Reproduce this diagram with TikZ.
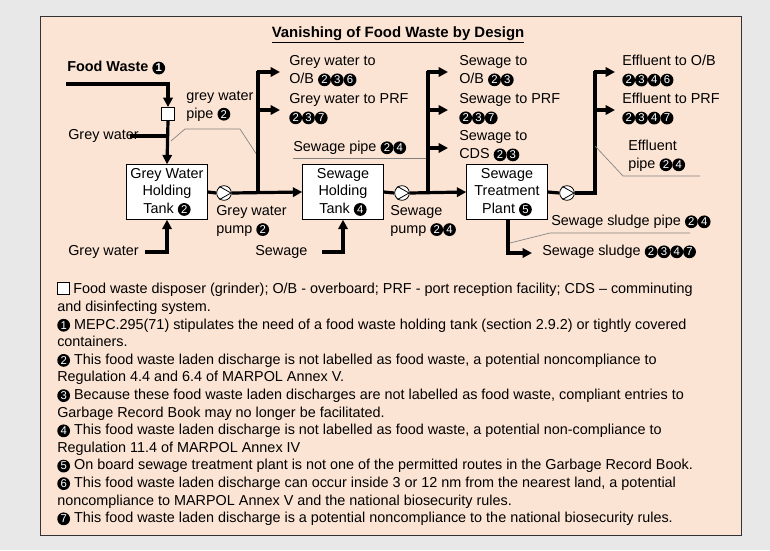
\documentclass[tikz,border=0pt]{standalone}
\usepackage{fontspec}
\setmainfont{Liberation Sans}
\usetikzlibrary{arrows.meta,calc}
\newcommand{\cn}[1]{\tikz[baseline=(cnx.base)]\node[circle,fill=black,text=white,inner sep=0pt,minimum size=9.6pt,font=\fontsize{8.5}{8.5}\selectfont](cnx){#1};}
\newcommand{\gbox}{\tikz[baseline=0pt]\draw[fill=white,line width=0.5pt] (0,0) rectangle (8.5pt,8.5pt);}
\begin{document}
\begin{tikzpicture}[x=0.75pt,y=-0.75pt,font=\fontsize{10.8}{12}\selectfont,
  pipe/.style={line width=2.4pt},
  arr/.style={pipe,-{Triangle[length=7pt,width=7pt]}},
  lead/.style={draw=gray,line width=0.5pt},
  tank/.style={draw,fill=white,align=center,minimum width=60.75pt,minimum height=41.25pt,inner sep=1pt,font=\fontsize{10.8}{13.2}\selectfont},
  pump/.style={circle,draw,fill=white,minimum size=11pt,inner sep=0pt,line width=0.6pt},
  lbl/.style={anchor=west,align=left,inner sep=0pt,font=\fontsize{10.8}{13.5}\selectfont}]
\fill[gray!18] (0,0) rectangle (770,550);
\useasboundingbox (0,0) rectangle (770,550);
\filldraw[fill={rgb,255:red,252;green,228;blue,212},draw=black!80] (40,16) rectangle (741,535);
\node[font=\bfseries\fontsize{11.2}{12}\selectfont] (title) at (398,35) {\underline{Vanishing of Food Waste by Design}};
\node[tank] (gt) at (167,192) {Grey Water\\Holding\\Tank \cn{2}};
\node[tank] (st) at (343,192) {Sewage\\Holding\\Tank \cn{4}};
\node[tank] (tp) at (507,192) {Sewage\\Treatment\\Plant \cn{5}};
\node[draw,fill=white,minimum size=10pt,inner sep=0pt] (gr) at (168,114) {};
\node[lbl,font=\bfseries\fontsize{10.8}{12}\selectfont] (fw) at (67,68) {Food Waste \cn{1}};
\coordinate (fw0) at (66,84);
\draw[arr] (fw0) -| (gr.north);
\draw[arr] (gr.south) -- (gt.north);
\node[lbl] (gw1) at (68,136) {Grey water};
\draw[pipe] (130,136) -- (168,136);
\node[lbl] (gw2) at (68,252) {Grey water};
\coordinate (gw2e) at (145,252);
\draw[arr] (gw2e) -| (gt.south);
\node[lbl] (gwp) at (186,106) {grey water\\pipe \cn{2}};
\draw[lead] (171,141) -- (185,129) -- (240,129) -- (257,155);
\node[pump] (p1) at (224,193) {};
\draw[line width=0.6pt] ($(p1)+(-4.5,-6.5)$) -- ($(p1)+(7,0)$) -- ($(p1)+(-4.5,6.5)$);
\draw[pipe] (gt.east) -- (p1.west);
\draw[arr] (p1.east) -- (st.west);
\coordinate (b1) at (258,193);
\draw[pipe] (b1) -- (258,71);
\draw[arr] (257,72) -- (280,72);
\draw[arr] (258,110) -- (280,110);
\node[lbl] (g1) at (289,71) {Grey water to\\O/B \cn{2}\cn{3}\cn{6}};
\node[lbl] (g2) at (289,109) {Grey water to PRF\\\cn{2}\cn{3}\cn{7}};
\node[lbl] (gpl) at (216,221) {Grey water\\pump \cn{2}};
\node[lbl] (spp) at (293,148) {Sewage pipe \cn{2}\cn{4}};
\draw[lead] (293,158) -- (428,158);
\node[lbl] (sw) at (255,252) {Sewage};
\coordinate (swe) at (322,252);
\draw[arr] (swe) -| (st.south);
\node[pump] (p2) at (402,193) {};
\draw[line width=0.6pt] ($(p2)+(-4.5,-6.5)$) -- ($(p2)+(7,0)$) -- ($(p2)+(-4.5,6.5)$);
\draw[pipe] (st.east) -- (p2.west);
\draw[arr] (p2.east) -- (tp.west);
\draw[pipe] (428,193) -- (428,71);
\draw[arr] (427,72) -- (448,72);
\draw[arr] (428,110) -- (448,110);
\draw[arr] (428,148) -- (448,148);
\node[lbl] (s1) at (459,71) {Sewage to\\O/B \cn{2}\cn{3}};
\node[lbl] (s2) at (459,109) {Sewage to PRF\\\cn{2}\cn{3}\cn{7}};
\node[lbl] (s3) at (459,146) {Sewage to\\CDS \cn{2}\cn{3}};
\node[lbl] (spl) at (390,221) {Sewage\\pump \cn{2}\cn{4}};
\node[pump] (p3) at (567,193) {};
\draw[line width=0.6pt] ($(p3)+(-4.5,-6.5)$) -- ($(p3)+(7,0)$) -- ($(p3)+(-4.5,6.5)$);
\draw[pipe] (tp.east) -- (p3.west);
\draw[pipe] (p3.east) -- (595,193) -- (595,71);
\draw[arr] (594,72) -- (615,72);
\draw[arr] (595,110) -- (615,110);
\node[lbl] (e1) at (622,71) {Effluent to O/B\\\cn{2}\cn{3}\cn{4}\cn{6}};
\node[lbl] (e2) at (622,109) {Effluent to PRF\\\cn{2}\cn{3}\cn{4}\cn{7}};
\node[lbl] (e3) at (628,156) {Effluent\\pipe \cn{2}\cn{4}};
\draw[lead] (595,146) -- (623,176) -- (700,176);
\coordinate (sl) at (532,253);
\draw[arr] (508,220) |- (sl);
\node[lbl] (sl1) at (542,252) {Sewage sludge \cn{2}\cn{3}\cn{4}\cn{7}};
\node[lbl] (sl2) at (551,222) {Sewage sludge pipe \cn{2}\cn{4}};
\draw[lead] (510,243) -- (550,233) -- (690,233);
\node[anchor=north west,align=left,inner sep=0pt,font=\fontsize{10.8}{13.2}\selectfont] (notes) at (57,282) {%
\gbox\ Food waste disposer (grinder); O/B - overboard; PRF - port reception facility; CDS – comminuting\\
and disinfecting system.\\
\cn{1} MEPC.295(71) stipulates the need of a food waste holding tank (section 2.9.2) or tightly covered\\
containers.\\
\cn{2} This food waste laden discharge is not labelled as food waste, a potential noncompliance to\\
Regulation 4.4 and 6.4 of MARPOL Annex V.\\
\cn{3} Because these food waste laden discharges are not labelled as food waste, compliant entries to\\
Garbage Record Book may no longer be facilitated.\\
\cn{4} This food waste laden discharge is not labelled as food waste, a potential non-compliance to\\
Regulation 11.4 of MARPOL Annex IV\\
\cn{5} On board sewage treatment plant is not one of the permitted routes in the Garbage Record Book.\\
\cn{6} This food waste laden discharge can occur inside 3 or 12 nm from the nearest land, a potential\\
noncompliance to MARPOL Annex V and the national biosecurity rules.\\
\cn{7} This food waste laden discharge is a potential noncompliance to the national biosecurity rules.};
\end{tikzpicture}
\end{document}
